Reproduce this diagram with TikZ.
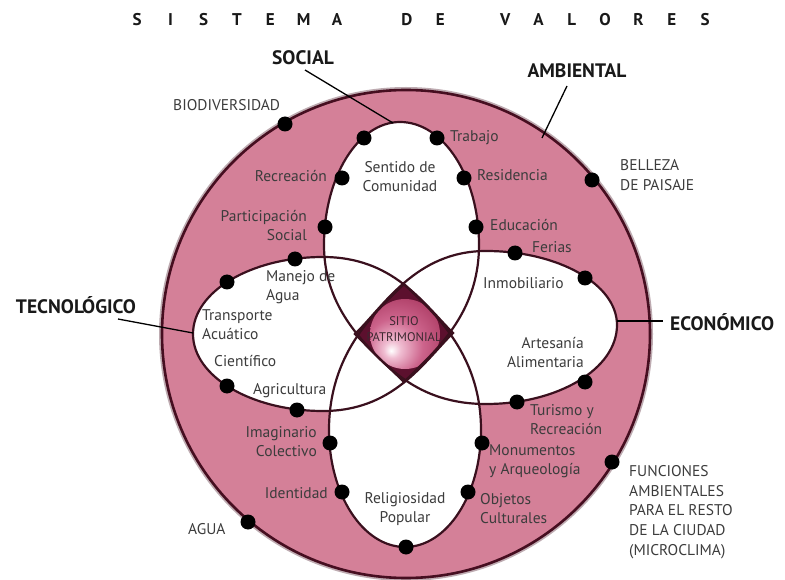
\documentclass[tikz,border=0pt]{standalone}
\usepackage{fontspec}
\setmainfont{PT Sans}
\definecolor{ringpink}{RGB}{212,128,152}
\definecolor{ringedge}{RGB}{70,14,32}
\definecolor{petaledge}{RGB}{58,16,30}
\definecolor{diamondc}{RGB}{92,16,46}
\definecolor{ballA}{RGB}{240,190,210}
\definecolor{ballB}{RGB}{205,100,140}
\definecolor{ballC}{RGB}{160,45,85}
\definecolor{txt}{RGB}{60,60,60}
\definecolor{lbl}{RGB}{25,25,25}
\pgfdeclareradialshading{sitioball}{\pgfpoint{-10bp}{-12bp}}{color(0bp)=(white); color(6bp)=(ballA); color(20bp)=(ballB); color(42bp)=(ballC); color(75bp)=(ballC)}
\newcommand\ttlet[1]{\makebox[33.3pt]{#1}}
\tikzset{
  petL/.style={insert path={(193,334) .. controls (193,291.5) and (251.2,257) .. (323,257) .. controls (393,257) and (423,303) .. (453,333) .. controls (423,363) and (393,411) .. (323,411) .. controls (251.2,411) and (193,376.5) .. cycle}},
  petR/.style={insert path={(617,325) .. controls (617,284) and (558,251) .. (486,251) .. controls (416,251) and (384,306) .. (355,334) .. controls (385,364) and (416,404) .. (486,404) .. controls (558,404) and (617,369) .. cycle}},
  petT/.style={insert path={(400,122) .. controls (443.6,122) and (479,177) .. (479,245) .. controls (479,315) and (434,352) .. (404,382) .. controls (374,352) and (324,315) .. (324,245) .. controls (324,177) and (358,122) .. cycle}},
  petB/.style={insert path={(404,284) .. controls (429,309) and (481,350) .. (481,430) .. controls (481,494.6) and (447,547) .. (405,547) .. controls (363,547) and (329,494.6) .. (329,430) .. controls (329,350) and (379,309) .. cycle}},
  petline/.style={draw=petaledge, line width=2.2pt},
  dot/.style={circle, fill=black, minimum size=15pt, inner sep=0pt},
  body/.style={font=\fontsize{15.5}{19}\selectfont, text=txt, inner sep=1pt},
  outerlbl/.style={font=\fontsize{15.5}{19.7}\selectfont, text=txt, inner sep=1pt},
  catlbl/.style={font=\fontsize{19.5}{22}\selectfont\bfseries, text=lbl, inner sep=1pt},
  leader/.style={draw=black, line width=1.3pt},
}
\begin{document}
\begin{tikzpicture}[x=1pt, y=-1pt]
\useasboundingbox (0,0) rectangle (785,580);
\fill[white] (0,0) rectangle (785,580);
% outer disk
\draw[ringedge!35, line width=6pt] (406,334) circle (244pt);
\fill[ringpink] (406,334) circle (244pt);
\draw[ringedge, line width=2.6pt] (406,334) circle (244pt);
% white petals
\fill[white, petL];
\fill[white, petR];
\fill[white, petT];
\fill[white, petB];
% central diamond
\begin{scope}
  \clip[petL];
  \clip[petR];
  \clip[petT];
  \clip[petB];
  \fill[diamondc] (340,270) rectangle (470,395);
\end{scope}
\fill[diamondc] (404,284) -- (453,333) -- (404,382) -- (355,334) -- cycle;
\shade[shading=sitioball] (405,334) circle (35pt);
% petal outlines
\path[petline, petL];
\path[petline, petR];
\path[petline, petT];
\path[petline, petB];
% title
\node[font=\fontsize{17}{19}\selectfont\bfseries, text=lbl, inner sep=0pt, anchor=west] (title) at (120.3,20)
  {\ttlet{S}\ttlet{I}\ttlet{S}\ttlet{T}\ttlet{E}\ttlet{M}\ttlet{A}\hspace{36.7pt}\ttlet{D}\ttlet{E}\hspace{31.7pt}\ttlet{V}\ttlet{A}\ttlet{L}\ttlet{O}\ttlet{R}\ttlet{E}\ttlet{S}};
% center label
\node[font=\fontsize{12.5}{16}\selectfont, text={rgb,255:red,60;green,40;blue,48}, align=center, inner sep=0pt] (sitio) at (404,329) {SITIO\\PATRIMONIAL};
% dots
\node[dot] (dBio) at (285,124) {};
\node[dot] (dSoc) at (364,138) {};
\node[dot] (dTra) at (437,138) {};
\node[dot] (dRec) at (342,178) {};
\node[dot] (dRes) at (464,178) {};
\node[dot] (dBel) at (592,180) {};
\node[dot] (dPar) at (325,227) {};
\node[dot] (dEdu) at (476,227) {};
\node[dot] (dMan) at (295,259) {};
\node[dot] (dFer) at (515,253) {};
\node[dot] (dTrn) at (227,282) {};
\node[dot] (dInm) at (585,278) {};
\node[dot] (dCie) at (227,386) {};
\node[dot] (dArt) at (585,382) {};
\node[dot] (dAgr) at (297,410) {};
\node[dot] (dTur) at (517,402) {};
\node[dot] (dIma) at (330,443) {};
\node[dot] (dMon) at (482,443) {};
\node[dot] (dFun) at (612,462) {};
\node[dot] (dIde) at (342,492) {};
\node[dot] (dObj) at (468,492) {};
\node[dot] (dAgu) at (248,522) {};
\node[dot] (dRel) at (406,547) {};
% outer labels
\node[outerlbl, anchor=west] (tBio) at (172,105) {BIODIVERSIDAD};
\node[outerlbl, anchor=west, align=left] (tBel) at (619,175) {BELLEZA\\DE PAISAJE};
\node[outerlbl, anchor=west] (tAgu) at (187,529) {AGUA};
\node[outerlbl, anchor=west, align=left] (tFun) at (628,512) {FUNCIONES\\AMBIENTALES\\PARA EL RESTO\\DE LA CIUDAD\\(MICROCLIMA)};
% inner labels
\node[body, align=center] (tSen) at (400,177) {Sentido de\\Comunidad};
\node[body, anchor=west] (tTra) at (449,138) {Trabajo};
\node[body, anchor=east] (tRec) at (328,176) {Recreación};
\node[body, anchor=west] (tRes) at (476,175) {Residencia};
\node[body, anchor=east, align=right] (tPar) at (308,226) {Participación\\Social};
\node[body, anchor=west] (tEdu) at (489,225) {Educación};
\node[body, anchor=west, align=left] (tMan) at (265,287) {Manejo de\\Agua};
\node[body, anchor=west, align=left] (tTrn) at (201,325) {Transporte\\Acuático};
\node[body, anchor=west] (tCie) at (213,361) {Científico};
\node[body, anchor=west] (tAgr) at (252,391) {Agricultura};
\node[body, anchor=west] (tFer) at (531,247) {Ferias};
\node[body, anchor=west] (tInm) at (482,283) {Inmobiliario};
\node[body, anchor=east, align=right] (tArt) at (585,353) {Artesanía\\Alimentaria};
\node[body, anchor=west, align=left] (tTur) at (529,420) {Turismo y\\Recreación};
\node[body, anchor=east, align=right] (tIma) at (318,442) {Imaginario\\Colectivo};
\node[body, anchor=east] (tIde) at (329,493) {Identidad};
\node[body, align=center] (tRel) at (405,509) {Religiosidad\\Popular};
\node[body, anchor=west, align=left] (tMon) at (488,461) {Monumentos\\y Arqueología};
\node[body, anchor=west, align=left] (tObj) at (479,509) {Objetos\\Culturales};
% category labels and leaders
\node[catlbl] (social) at (303,58) {SOCIAL};
\node[catlbl] (ambiental) at (577,71) {AMBIENTAL};
\node[catlbl] (tecno) at (76,305) {TECNOLÓGICO};
\node[catlbl, anchor=west] (econ) at (669,322) {ECONÓMICO};
\coordinate (socA) at (305,70);
\coordinate (socB) at (393,123);
\coordinate (ambA) at (567,86);
\coordinate (ambB) at (542,138);
\coordinate (tecA) at (118,319);
\coordinate (tecB) at (193,333);
\coordinate (ecoA) at (617,321);
\coordinate (ecoB) at (663,321);
\draw[leader] (socA) -- (socB);
\draw[leader] (ambA) -- (ambB);
\draw[leader] (tecA) -- (tecB);
\draw[leader] (ecoA) -- (ecoB);
\end{tikzpicture}
\end{document}
